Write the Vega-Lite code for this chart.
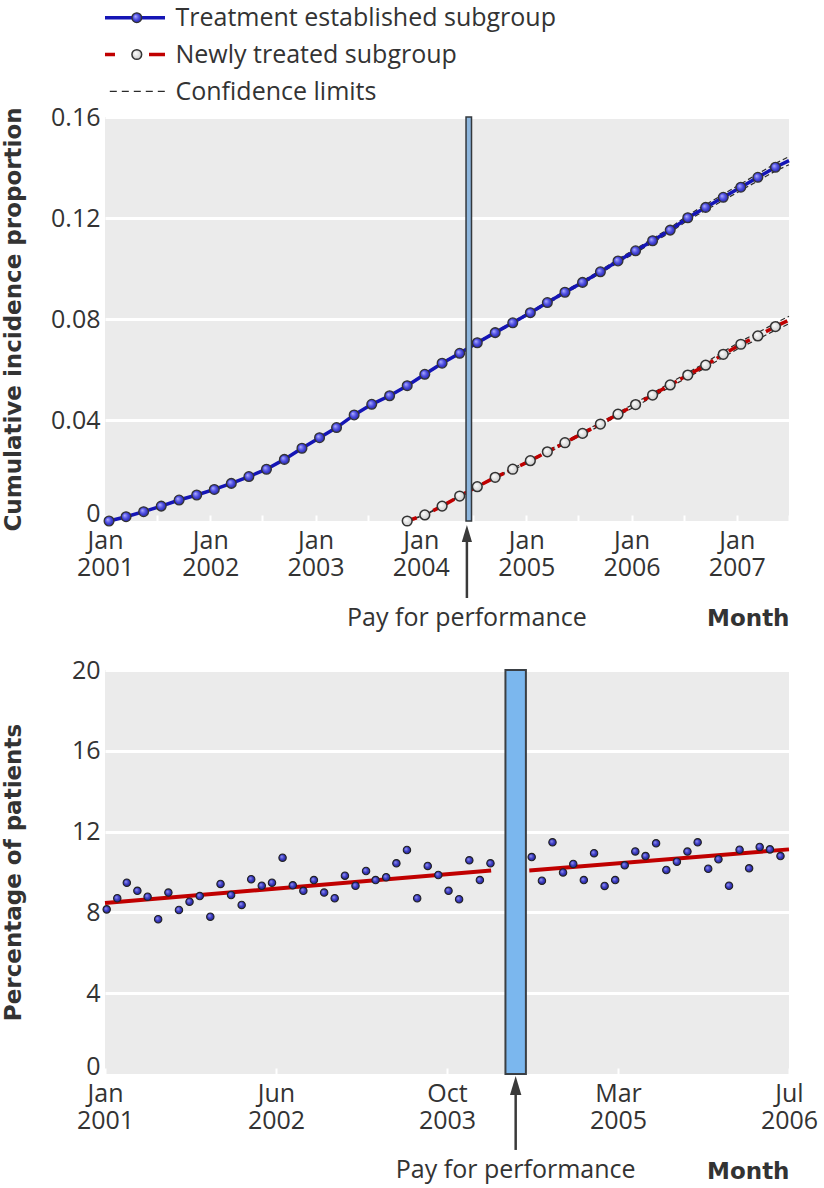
{
  "$schema": "https://vega.github.io/schema/vega-lite/v6.json",
  "padding": {"left": 2, "top": 2, "right": 4, "bottom": 4},
  "background": "white",
  "config": {
    "font": "Open Sans",
    "view": {"stroke": null},
    "axis": {
      "labelFont": "Open Sans", "labelFontSize": 25, "labelColor": "#333333",
      "titleFont": "DejaVu Sans", "titleFontSize": 23, "titleFontWeight": "bold", "titleColor": "#333333",
      "domain": false, "ticks": false
    }
  },
  "datasets": {
    "legend": [
      {"series": "Treatment established subgroup"},
      {"series": "Newly treated subgroup"},
      {"series": "Confidence limits"}
    ],
    "cum": [
      {"group": "established", "date": "2001-01-15", "value": 0.0000, "lower": -0.0001, "upper": 0.0001, "observed": true},
      {"group": "established", "date": "2001-03-15", "value": 0.0017, "lower": 0.0016, "upper": 0.0018, "observed": true},
      {"group": "established", "date": "2001-05-15", "value": 0.0037, "lower": 0.0036, "upper": 0.0038, "observed": true},
      {"group": "established", "date": "2001-07-15", "value": 0.0059, "lower": 0.0058, "upper": 0.0060, "observed": true},
      {"group": "established", "date": "2001-09-15", "value": 0.0083, "lower": 0.0082, "upper": 0.0084, "observed": true},
      {"group": "established", "date": "2001-11-15", "value": 0.0103, "lower": 0.0102, "upper": 0.0104, "observed": true},
      {"group": "established", "date": "2002-01-15", "value": 0.0125, "lower": 0.0124, "upper": 0.0126, "observed": true},
      {"group": "established", "date": "2002-03-15", "value": 0.0149, "lower": 0.0148, "upper": 0.0150, "observed": true},
      {"group": "established", "date": "2002-05-15", "value": 0.0176, "lower": 0.0175, "upper": 0.0177, "observed": true},
      {"group": "established", "date": "2002-07-15", "value": 0.0205, "lower": 0.0203, "upper": 0.0207, "observed": true},
      {"group": "established", "date": "2002-09-15", "value": 0.0244, "lower": 0.0242, "upper": 0.0246, "observed": true},
      {"group": "established", "date": "2002-11-15", "value": 0.0288, "lower": 0.0286, "upper": 0.0290, "observed": true},
      {"group": "established", "date": "2003-01-15", "value": 0.0330, "lower": 0.0328, "upper": 0.0332, "observed": true},
      {"group": "established", "date": "2003-03-15", "value": 0.0370, "lower": 0.0368, "upper": 0.0372, "observed": true},
      {"group": "established", "date": "2003-05-15", "value": 0.0420, "lower": 0.0418, "upper": 0.0422, "observed": true},
      {"group": "established", "date": "2003-07-15", "value": 0.0462, "lower": 0.0460, "upper": 0.0464, "observed": true},
      {"group": "established", "date": "2003-09-15", "value": 0.0496, "lower": 0.0494, "upper": 0.0498, "observed": true},
      {"group": "established", "date": "2003-11-15", "value": 0.0536, "lower": 0.0534, "upper": 0.0538, "observed": true},
      {"group": "established", "date": "2004-01-15", "value": 0.0581, "lower": 0.0578, "upper": 0.0584, "observed": true},
      {"group": "established", "date": "2004-03-15", "value": 0.0625, "lower": 0.0622, "upper": 0.0628, "observed": true},
      {"group": "established", "date": "2004-05-15", "value": 0.0664, "lower": 0.0661, "upper": 0.0667, "observed": true},
      {"group": "established", "date": "2004-07-15", "value": 0.0706, "lower": 0.0703, "upper": 0.0709, "observed": true},
      {"group": "established", "date": "2004-09-15", "value": 0.0746, "lower": 0.0742, "upper": 0.0750, "observed": true},
      {"group": "established", "date": "2004-11-15", "value": 0.0785, "lower": 0.0781, "upper": 0.0789, "observed": true},
      {"group": "established", "date": "2005-01-15", "value": 0.0825, "lower": 0.0821, "upper": 0.0829, "observed": true},
      {"group": "established", "date": "2005-03-15", "value": 0.0865, "lower": 0.0860, "upper": 0.0870, "observed": true},
      {"group": "established", "date": "2005-05-15", "value": 0.0906, "lower": 0.0901, "upper": 0.0911, "observed": true},
      {"group": "established", "date": "2005-07-15", "value": 0.0945, "lower": 0.0939, "upper": 0.0951, "observed": true},
      {"group": "established", "date": "2005-09-15", "value": 0.0987, "lower": 0.0981, "upper": 0.0993, "observed": true},
      {"group": "established", "date": "2005-11-15", "value": 0.1030, "lower": 0.1023, "upper": 0.1037, "observed": true},
      {"group": "established", "date": "2006-01-15", "value": 0.1070, "lower": 0.1062, "upper": 0.1078, "observed": true},
      {"group": "established", "date": "2006-03-15", "value": 0.1110, "lower": 0.1102, "upper": 0.1118, "observed": true},
      {"group": "established", "date": "2006-05-15", "value": 0.1152, "lower": 0.1143, "upper": 0.1161, "observed": true},
      {"group": "established", "date": "2006-07-15", "value": 0.1201, "lower": 0.1191, "upper": 0.1211, "observed": true},
      {"group": "established", "date": "2006-09-15", "value": 0.1242, "lower": 0.1231, "upper": 0.1253, "observed": true},
      {"group": "established", "date": "2006-11-15", "value": 0.1282, "lower": 0.1270, "upper": 0.1294, "observed": true},
      {"group": "established", "date": "2007-01-15", "value": 0.1322, "lower": 0.1309, "upper": 0.1335, "observed": true},
      {"group": "established", "date": "2007-03-15", "value": 0.1361, "lower": 0.1347, "upper": 0.1375, "observed": true},
      {"group": "established", "date": "2007-05-15", "value": 0.1401, "lower": 0.1386, "upper": 0.1416, "observed": true},
      {"group": "established", "date": "2007-07-01", "value": 0.1427, "lower": 0.1411, "upper": 0.1443, "observed": false},
      {"group": "newly", "date": "2003-11-15", "value": 0.0000, "lower": -0.0001, "upper": 0.0001, "observed": true},
      {"group": "newly", "date": "2004-01-15", "value": 0.0024, "lower": 0.0023, "upper": 0.0025, "observed": true},
      {"group": "newly", "date": "2004-03-15", "value": 0.0059, "lower": 0.0057, "upper": 0.0061, "observed": true},
      {"group": "newly", "date": "2004-05-15", "value": 0.0099, "lower": 0.0097, "upper": 0.0101, "observed": true},
      {"group": "newly", "date": "2004-07-15", "value": 0.0136, "lower": 0.0134, "upper": 0.0138, "observed": true},
      {"group": "newly", "date": "2004-09-15", "value": 0.0173, "lower": 0.0170, "upper": 0.0176, "observed": true},
      {"group": "newly", "date": "2004-11-15", "value": 0.0205, "lower": 0.0202, "upper": 0.0208, "observed": true},
      {"group": "newly", "date": "2005-01-15", "value": 0.0239, "lower": 0.0235, "upper": 0.0243, "observed": true},
      {"group": "newly", "date": "2005-03-15", "value": 0.0274, "lower": 0.0270, "upper": 0.0278, "observed": true},
      {"group": "newly", "date": "2005-05-15", "value": 0.0310, "lower": 0.0305, "upper": 0.0315, "observed": true},
      {"group": "newly", "date": "2005-07-15", "value": 0.0347, "lower": 0.0342, "upper": 0.0352, "observed": true},
      {"group": "newly", "date": "2005-09-15", "value": 0.0384, "lower": 0.0378, "upper": 0.0390, "observed": true},
      {"group": "newly", "date": "2005-11-15", "value": 0.0423, "lower": 0.0417, "upper": 0.0429, "observed": true},
      {"group": "newly", "date": "2006-01-15", "value": 0.0461, "lower": 0.0454, "upper": 0.0468, "observed": true},
      {"group": "newly", "date": "2006-03-15", "value": 0.0499, "lower": 0.0491, "upper": 0.0507, "observed": true},
      {"group": "newly", "date": "2006-05-15", "value": 0.0539, "lower": 0.0531, "upper": 0.0547, "observed": true},
      {"group": "newly", "date": "2006-07-15", "value": 0.0578, "lower": 0.0569, "upper": 0.0587, "observed": true},
      {"group": "newly", "date": "2006-09-15", "value": 0.0617, "lower": 0.0607, "upper": 0.0627, "observed": true},
      {"group": "newly", "date": "2006-11-15", "value": 0.0660, "lower": 0.0649, "upper": 0.0671, "observed": true},
      {"group": "newly", "date": "2007-01-15", "value": 0.0700, "lower": 0.0688, "upper": 0.0712, "observed": true},
      {"group": "newly", "date": "2007-03-15", "value": 0.0733, "lower": 0.0720, "upper": 0.0746, "observed": true},
      {"group": "newly", "date": "2007-05-15", "value": 0.0770, "lower": 0.0756, "upper": 0.0784, "observed": true},
      {"group": "newly", "date": "2007-07-01", "value": 0.0796, "lower": 0.0781, "upper": 0.0811, "observed": false}
    ],
    "event1": [
      {"event": "Pay for performance", "start": "2004-06-06", "end": "2004-06-25", "arrow": "2004-06-09"}
    ],
    "pct": [
      {"date": "2001-01-06", "value": 8.15, "period": "before"},
      {"date": "2001-02-06", "value": 8.70, "period": "before"},
      {"date": "2001-03-06", "value": 9.47, "period": "before"},
      {"date": "2001-04-06", "value": 9.07, "period": "before"},
      {"date": "2001-05-06", "value": 8.78, "period": "before"},
      {"date": "2001-06-06", "value": 7.66, "period": "before"},
      {"date": "2001-07-06", "value": 8.98, "period": "before"},
      {"date": "2001-08-06", "value": 8.12, "period": "before"},
      {"date": "2001-09-06", "value": 8.53, "period": "before"},
      {"date": "2001-10-06", "value": 8.81, "period": "before"},
      {"date": "2001-11-06", "value": 7.79, "period": "before"},
      {"date": "2001-12-06", "value": 9.41, "period": "before"},
      {"date": "2002-01-06", "value": 8.86, "period": "before"},
      {"date": "2002-02-06", "value": 8.37, "period": "before"},
      {"date": "2002-03-06", "value": 9.64, "period": "before"},
      {"date": "2002-04-06", "value": 9.32, "period": "before"},
      {"date": "2002-05-06", "value": 9.47, "period": "before"},
      {"date": "2002-06-06", "value": 10.71, "period": "before"},
      {"date": "2002-07-06", "value": 9.34, "period": "before"},
      {"date": "2002-08-06", "value": 9.07, "period": "before"},
      {"date": "2002-09-06", "value": 9.60, "period": "before"},
      {"date": "2002-10-06", "value": 8.98, "period": "before"},
      {"date": "2002-11-06", "value": 8.70, "period": "before"},
      {"date": "2002-12-06", "value": 9.82, "period": "before"},
      {"date": "2003-01-06", "value": 9.32, "period": "before"},
      {"date": "2003-02-06", "value": 10.05, "period": "before"},
      {"date": "2003-03-06", "value": 9.60, "period": "before"},
      {"date": "2003-04-06", "value": 9.74, "period": "before"},
      {"date": "2003-05-06", "value": 10.43, "period": "before"},
      {"date": "2003-06-06", "value": 11.09, "period": "before"},
      {"date": "2003-07-06", "value": 8.70, "period": "before"},
      {"date": "2003-08-06", "value": 10.30, "period": "before"},
      {"date": "2003-09-06", "value": 9.85, "period": "before"},
      {"date": "2003-10-06", "value": 9.07, "period": "before"},
      {"date": "2003-11-06", "value": 8.65, "period": "before"},
      {"date": "2003-12-06", "value": 10.58, "period": "before"},
      {"date": "2004-01-06", "value": 9.60, "period": "before"},
      {"date": "2004-02-06", "value": 10.43, "period": "before"},
      {"date": "2004-06-06", "value": 10.74, "period": "after"},
      {"date": "2004-07-06", "value": 9.57, "period": "after"},
      {"date": "2004-08-06", "value": 11.47, "period": "after"},
      {"date": "2004-09-06", "value": 9.98, "period": "after"},
      {"date": "2004-10-06", "value": 10.40, "period": "after"},
      {"date": "2004-11-06", "value": 9.60, "period": "after"},
      {"date": "2004-12-06", "value": 10.93, "period": "after"},
      {"date": "2005-01-06", "value": 9.31, "period": "after"},
      {"date": "2005-02-06", "value": 9.60, "period": "after"},
      {"date": "2005-03-06", "value": 10.33, "period": "after"},
      {"date": "2005-04-06", "value": 11.02, "period": "after"},
      {"date": "2005-05-06", "value": 10.79, "period": "after"},
      {"date": "2005-06-06", "value": 11.42, "period": "after"},
      {"date": "2005-07-06", "value": 10.10, "period": "after"},
      {"date": "2005-08-06", "value": 10.51, "period": "after"},
      {"date": "2005-09-06", "value": 11.01, "period": "after"},
      {"date": "2005-10-06", "value": 11.47, "period": "after"},
      {"date": "2005-11-06", "value": 10.16, "period": "after"},
      {"date": "2005-12-06", "value": 10.63, "period": "after"},
      {"date": "2006-01-06", "value": 9.32, "period": "after"},
      {"date": "2006-02-06", "value": 11.10, "period": "after"},
      {"date": "2006-03-06", "value": 10.18, "period": "after"},
      {"date": "2006-04-06", "value": 11.24, "period": "after"},
      {"date": "2006-05-06", "value": 11.12, "period": "after"},
      {"date": "2006-06-06", "value": 10.79, "period": "after"}
    ],
    "trend": [
      {"date": "2001-01-01", "value": 8.47, "period": "before"},
      {"date": "2004-02-08", "value": 10.07, "period": "before"},
      {"date": "2004-05-30", "value": 10.07, "period": "after"},
      {"date": "2006-07-01", "value": 11.12, "period": "after"}
    ],
    "event2": [
      {"event": "Pay for performance", "start": "2004-03-21", "end": "2004-05-20", "arrow": "2004-04-20"}
    ]
  },
  "bounds": "flush",
  "spacing": 10,
  "vconcat": [
    {
      "width": 60,
      "height": 105,
      "data": {"name": "legend"},
      "encoding": {
        "y": {
          "field": "series", "type": "nominal",
          "scale": {"type": "point", "domain": ["Treatment established subgroup", "Newly treated subgroup", "Confidence limits"], "padding": 0.427},
          "axis": {"orient": "right", "title": null, "labelPadding": 10, "labelAlign": "left", "labelLimit": 600, "labelFontSize": 25}
        }
      },
      "layer": [
        {
          "transform": [{"filter": "datum.series == 'Treatment established subgroup'"}],
          "mark": {"type": "rule", "color": "#1515b5", "strokeWidth": 3.5},
          "encoding": {"x": {"datum": 0, "type": "quantitative", "scale": {"domain": [0, 1]}, "axis": null}, "x2": {"datum": 1}}
        },
        {
          "transform": [{"filter": "datum.series == 'Newly treated subgroup'"}],
          "mark": {"type": "rule", "color": "#c00000", "strokeWidth": 3.5, "strokeDash": [10, 34, 16, 30]},
          "encoding": {"x": {"datum": 0, "type": "quantitative", "scale": {"domain": [0, 1]}, "axis": null}, "x2": {"datum": 1}}
        },
        {
          "transform": [{"filter": "datum.series == 'Confidence limits'"}],
          "mark": {"type": "rule", "color": "#2a2a2a", "strokeWidth": 1.3, "strokeDash": [7, 5]},
          "encoding": {"x": {"datum": 0.08, "type": "quantitative", "scale": {"domain": [0, 1]}, "axis": null}, "x2": {"datum": 1}}
        },
        {
          "transform": [{"filter": "datum.series == 'Treatment established subgroup'"}],
          "mark": {"type": "point", "filled": true, "opacity": 1, "size": 95, "stroke": "#333333", "strokeWidth": 1.3,
            "fill": {"gradient": "radial", "x1": 0.35, "y1": 0.35, "r1": 0, "x2": 0.5, "y2": 0.5, "r2": 0.6, "stops": [{"offset": 0, "color": "#b0b0ff"}, {"offset": 0.5, "color": "#4a4ae0"}, {"offset": 1, "color": "#1c1c90"}]}},
          "encoding": {"x": {"datum": 0.53, "type": "quantitative", "scale": {"domain": [0, 1]}, "axis": null}}
        },
        {
          "transform": [{"filter": "datum.series == 'Newly treated subgroup'"}],
          "mark": {"type": "point", "filled": true, "opacity": 1, "size": 95, "stroke": "#333333", "strokeWidth": 1.5,
            "fill": {"gradient": "radial", "x1": 0.35, "y1": 0.35, "r1": 0, "x2": 0.5, "y2": 0.5, "r2": 0.6, "stops": [{"offset": 0, "color": "#ffffff"}, {"offset": 1, "color": "#c4c4c4"}]}},
          "encoding": {"x": {"datum": 0.53, "type": "quantitative", "scale": {"domain": [0, 1]}, "axis": null}}
        }
      ]
    },
    {
      "bounds": "flush",
      "spacing": 149,
      "vconcat": [
        {
          "width": 684,
          "height": 404,
          "view": {"fill": "#ebebeb", "stroke": null},
          "layer": [
            {
              "data": {"name": "cum"},
              "mark": {"type": "line", "color": "#2a2a2a", "strokeWidth": 1.2, "strokeDash": [5, 3]},
              "encoding": {
                "x": {
                  "field": "date", "type": "temporal",
                  "scale": {"type": "utc", "domain": [{"year": 2001, "month": 1, "date": 1, "utc": true}, {"year": 2007, "month": 7, "date": 1, "utc": true}]},
                  "axis": {
                    "title": "Month", "titleAnchor": "end", "titlePadding": 27,
                    "tickCount": {"interval": "month", "step": 6},
                    "labelExpr": "utcmonth(datum.value) == 0 ? ['Jan', utcFormat(datum.value, '%Y')] : ''",
                    "ticks": true, "tickColor": "white", "tickSize": 6, "tickWidth": 2, "offset": -6,
                    "labelPadding": 7, "labelBaseline": "top", "labelLineHeight": 27, "labelAlign": "center",
                    "labelFlush": false, "labelOverlap": false, "grid": false
                  }
                },
                "y": {
                  "field": "lower", "type": "quantitative",
                  "scale": {"domain": [0, 0.16], "nice": false, "zero": false},
                  "axis": {
                    "title": "Cumulative incidence proportion",
                    "values": [0, 0.04, 0.08, 0.12, 0.16],
                    "labelExpr": "datum.value == 0 ? '0' : format(datum.value, '.2f')",
                    "grid": true, "gridColor": "white", "gridWidth": 3,
                    "gridOpacity": {"condition": {"test": "datum.value == 0", "value": 0}, "value": 1},
                    "labelBaseline": {"condition": {"test": "datum.value == 0", "value": "alphabetic"}, "value": "middle"},
                    "labelPadding": 5, "minExtent": 60, "maxExtent": 60, "titlePadding": 20
                  }
                },
                "detail": {"field": "group"}
              }
            },
            {
              "data": {"name": "cum"},
              "mark": {"type": "line", "color": "#2a2a2a", "strokeWidth": 1.2, "strokeDash": [5, 3]},
              "encoding": {
                "x": {"field": "date", "type": "temporal"},
                "y": {"field": "upper", "type": "quantitative"},
                "detail": {"field": "group"}
              }
            },
            {
              "data": {"name": "cum"},
              "transform": [{"filter": "datum.group == 'established'"}],
              "mark": {"type": "line", "color": "#1515b5", "strokeWidth": 3.5},
              "encoding": {
                "x": {"field": "date", "type": "temporal"},
                "y": {"field": "value", "type": "quantitative"}
              }
            },
            {
              "data": {"name": "cum"},
              "transform": [{"filter": "datum.group == 'newly'"}],
              "mark": {"type": "line", "color": "#c00000", "strokeWidth": 3.5, "strokeDash": [10, 4]},
              "encoding": {
                "x": {"field": "date", "type": "temporal"},
                "y": {"field": "value", "type": "quantitative"}
              }
            },
            {
              "data": {"name": "event1"},
              "mark": {"type": "rect", "fill": "#8db6dd", "stroke": "#33383d", "strokeWidth": 1.5},
              "encoding": {
                "x": {"field": "start", "type": "temporal"},
                "x2": {"field": "end"},
                "y": {"datum": 0, "type": "quantitative"},
                "y2": {"datum": 0.16}
              }
            },
            {
              "data": {"name": "cum"},
              "transform": [{"filter": "datum.group == 'established' && datum.observed"}],
              "mark": {"type": "point", "filled": true, "opacity": 1, "size": 95, "stroke": "#333333", "strokeWidth": 1.3,
                "fill": {"gradient": "radial", "x1": 0.35, "y1": 0.35, "r1": 0, "x2": 0.5, "y2": 0.5, "r2": 0.6, "stops": [{"offset": 0, "color": "#b0b0ff"}, {"offset": 0.5, "color": "#4a4ae0"}, {"offset": 1, "color": "#1c1c90"}]}},
              "encoding": {
                "x": {"field": "date", "type": "temporal"},
                "y": {"field": "value", "type": "quantitative"}
              }
            },
            {
              "data": {"name": "cum"},
              "transform": [{"filter": "datum.group == 'newly' && datum.observed"}],
              "mark": {"type": "point", "filled": true, "opacity": 1, "size": 95, "stroke": "#333333", "strokeWidth": 1.5,
                "fill": {"gradient": "radial", "x1": 0.35, "y1": 0.35, "r1": 0, "x2": 0.5, "y2": 0.5, "r2": 0.6, "stops": [{"offset": 0, "color": "#ffffff"}, {"offset": 1, "color": "#c4c4c4"}]}},
              "encoding": {
                "x": {"field": "date", "type": "temporal"},
                "y": {"field": "value", "type": "quantitative"}
              }
            },
            {
              "data": {"name": "event1"},
              "mark": {"type": "rule", "color": "#3a3a3a", "strokeWidth": 2.5},
              "encoding": {
                "x": {"field": "arrow", "type": "temporal"},
                "y": {"datum": -0.006, "type": "quantitative"},
                "y2": {"datum": -0.0305}
              }
            },
            {
              "data": {"name": "event1"},
              "mark": {"type": "point", "shape": "M0,-1L0.6,1L-0.6,1Z", "size": 289, "filled": true, "opacity": 1, "color": "#3a3a3a"},
              "encoding": {
                "x": {"field": "arrow", "type": "temporal"},
                "y": {"datum": -0.00495, "type": "quantitative"}
              }
            },
            {
              "data": {"name": "event1"},
              "mark": {"type": "text", "fontSize": 25, "color": "#333333", "baseline": "middle", "align": "center", "font": "Open Sans"},
              "encoding": {
                "x": {"field": "arrow", "type": "temporal"},
                "y": {"datum": -0.0384, "type": "quantitative"},
                "text": {"field": "event"}
              }
            }
          ]
        },
        {
          "width": 684,
          "height": 404,
          "view": {"fill": "#ebebeb", "stroke": null},
          "layer": [
            {
              "data": {"name": "trend"},
              "mark": {"type": "line", "color": "#c00000", "strokeWidth": 4},
              "encoding": {
                "x": {
                  "field": "date", "type": "temporal",
                  "scale": {"type": "utc", "domain": [{"year": 2001, "month": 1, "date": 1, "utc": true}, {"year": 2006, "month": 7, "date": 1, "utc": true}]},
                  "axis": {
                    "title": "Month", "titleAnchor": "end", "titlePadding": 27,
                    "values": [
                      {"year": 2001, "month": 1, "date": 1, "utc": true},
                      {"year": 2002, "month": 5, "date": 17, "hours": 18, "utc": true},
                      {"year": 2003, "month": 10, "date": 1, "hours": 12, "utc": true},
                      {"year": 2005, "month": 2, "date": 14, "hours": 6, "utc": true},
                      {"year": 2006, "month": 7, "date": 1, "utc": true}
                    ],
                    "labelExpr": "utcyear(datum.value) == 2001 ? ['Jan', '2001'] : utcyear(datum.value) == 2002 ? ['Jun', '2002'] : utcyear(datum.value) == 2003 ? ['Oct', '2003'] : utcyear(datum.value) == 2005 ? ['Mar', '2005'] : ['Jul', '2006']",
                    "ticks": true, "tickColor": "white", "tickSize": 6, "tickWidth": 2, "offset": -6,
                    "labelPadding": 7, "labelBaseline": "top", "labelLineHeight": 27, "labelAlign": "center",
                    "labelFlush": false, "labelOverlap": false, "grid": false
                  }
                },
                "y": {
                  "field": "value", "type": "quantitative",
                  "scale": {"domain": [0, 20], "nice": false, "zero": false},
                  "axis": {
                    "title": "Percentage of patients",
                    "values": [0, 4, 8, 12, 16, 20],
                    "grid": true, "gridColor": "white", "gridWidth": 3,
                    "gridOpacity": {"condition": {"test": "datum.value == 0", "value": 0}, "value": 1},
                    "labelBaseline": {"condition": {"test": "datum.value == 0", "value": "alphabetic"}, "value": "middle"},
                    "labelPadding": 5, "minExtent": 60, "maxExtent": 60, "titlePadding": 20
                  }
                },
                "detail": {"field": "period"}
              }
            },
            {
              "data": {"name": "pct"},
              "mark": {"type": "point", "filled": true, "opacity": 1, "size": 55, "stroke": "#222222", "strokeWidth": 1.1,
                "fill": {"gradient": "radial", "x1": 0.35, "y1": 0.35, "r1": 0, "x2": 0.5, "y2": 0.5, "r2": 0.6, "stops": [{"offset": 0, "color": "#9a9af5"}, {"offset": 0.5, "color": "#3d3dc4"}, {"offset": 1, "color": "#1a1a80"}]}},
              "encoding": {
                "x": {"field": "date", "type": "temporal"},
                "y": {"field": "value", "type": "quantitative"}
              }
            },
            {
              "data": {"name": "event2"},
              "mark": {"type": "rect", "fill": "#7bb7ee", "stroke": "#3a3f44", "strokeWidth": 2},
              "encoding": {
                "x": {"field": "start", "type": "temporal"},
                "x2": {"field": "end"},
                "y": {"datum": 0, "type": "quantitative"},
                "y2": {"datum": 20}
              }
            },
            {
              "data": {"name": "event2"},
              "mark": {"type": "rule", "color": "#3a3a3a", "strokeWidth": 2.5},
              "encoding": {
                "x": {"field": "arrow", "type": "temporal"},
                "y": {"datum": -0.8, "type": "quantitative"},
                "y2": {"datum": -3.76}
              }
            },
            {
              "data": {"name": "event2"},
              "mark": {"type": "point", "shape": "M0,-1L0.6,1L-0.6,1Z", "size": 361, "filled": true, "opacity": 1, "color": "#3a3a3a"},
              "encoding": {
                "x": {"field": "arrow", "type": "temporal"},
                "y": {"datum": -0.569, "type": "quantitative"}
              }
            },
            {
              "data": {"name": "event2"},
              "mark": {"type": "text", "fontSize": 25, "color": "#333333", "baseline": "middle", "align": "center", "font": "Open Sans"},
              "encoding": {
                "x": {"field": "arrow", "type": "temporal"},
                "y": {"datum": -4.73, "type": "quantitative"},
                "text": {"field": "event"}
              }
            }
          ]
        }
      ]
    }
  ]
}
